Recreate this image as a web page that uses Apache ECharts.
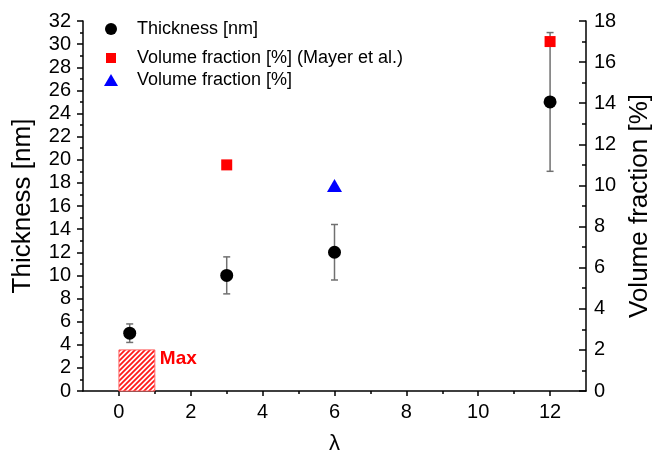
<!DOCTYPE html>
<html><head><meta charset="utf-8">
<script src="https://cdn.jsdelivr.net/npm/echarts@6/dist/echarts.min.js"></script>
<style>html,body{margin:0;padding:0;background:#fff}#c{width:653px;height:454px}</style>
</head><body><div id="c"></div>
<script>
// ---- data ----
const lambdaThickness = [0.3, 3, 6, 12];
const thickness = [5, 10, 12, 25];
const thicknessErr = [0.8, 1.6, 2.4, 6];
const lambdaMayer = [3, 12];
const volMayer = [11, 17];
const lambdaVol = [6];
const volFraction = [10];
const maxRegion = [0, 1, 2]; // lambda from, lambda to, volume fraction
const maxLabel = 'Max';
const xMajorTicks = [0, 2, 4, 6, 8, 10, 12];
const xMinorTicks = [1, 3, 5, 7, 9, 11];
const seriesNames = ['Thickness [nm]', 'Volume fraction [%] (Mayer et al.)', 'Volume fraction [%]'];

const FONT = "'Liberation Sans', Arial, sans-serif";

// hatch pattern
const pc = document.createElement('canvas');
pc.width = 5; pc.height = 5;
const g = pc.getContext('2d');
g.fillStyle = '#fff'; g.fillRect(0, 0, 5, 5);
g.strokeStyle = '#ff1a1a'; g.lineWidth = 1.8;
g.beginPath();
g.moveTo(0, 5); g.lineTo(5, 0);
g.moveTo(-1, 1); g.lineTo(1, -1);
g.moveTo(4, 6); g.lineTo(6, 4);
g.stroke();

const chart = echarts.init(document.getElementById('c'), null, {renderer: 'canvas'});
const axisLabelBase = {color: '#000', fontSize: 20, fontFamily: FONT};
const lineStyle = {color: '#000', width: 1.5};

const legendBase = (name, icon, left, top, w, h, pad) => ({
  data: [name], icon: icon, left: left, top: top, itemWidth: w, itemHeight: h,
  orient: 'vertical', selectedMode: false, padding: 0,
  textStyle: {fontSize: 18, fontFamily: FONT, color: '#000', padding: [0, 0, 0, pad]}
});

chart.setOption({
  animation: false,
  backgroundColor: '#fff',
  grid: {left: 83, right: 67, top: 21, bottom: 63, containLabel: false, outerBoundsMode: 'none'},
  legend: [
    legendBase(seriesNames[0], 'circle', 105, 20, 12, 12, 15),
    legendBase(seriesNames[1], 'rect', 106, 49, 10, 10, 16),
    legendBase(seriesNames[2], 'triangle', 104, 71, 14, 12, 14)
  ],
  xAxis: [{
    type: 'value', min: -1, max: 13, position: 'bottom',
    name: 'λ', nameLocation: 'middle', nameGap: 42,
    nameTextStyle: {fontSize: 22, fontFamily: FONT, color: '#000'},
    axisLine: {onZero: false, lineStyle: lineStyle},
    axisTick: {customValues: xMajorTicks, length: 5, lineStyle: lineStyle},
    axisLabel: Object.assign({customValues: xMajorTicks, margin: 11}, axisLabelBase),
    splitLine: {show: false}
  }, {
    type: 'value', min: -1, max: 13, position: 'bottom',
    axisLine: {show: false, onZero: false},
    axisTick: {customValues: xMinorTicks, length: 3, lineStyle: lineStyle},
    axisLabel: {show: false},
    splitLine: {show: false}
  }],
  yAxis: [{
    type: 'value', min: 0, max: 32, interval: 2, position: 'left',
    name: 'Thickness [nm]', nameLocation: 'middle', nameRotate: 90, nameGap: 47,
    nameTextStyle: {fontSize: 26, fontFamily: FONT, color: '#000'},
    axisLine: {show: true, onZero: false, lineStyle: lineStyle},
    axisTick: {show: true, length: 6, lineStyle: lineStyle},
    minorTick: {show: true, splitNumber: 2, length: 3, lineStyle: lineStyle},
    axisLabel: Object.assign({margin: 12}, axisLabelBase),
    splitLine: {show: false}
  }, {
    type: 'value', min: 0, max: 18, interval: 2, position: 'right',
    name: 'Volume fraction [%]', nameLocation: 'middle', nameRotate: 90, nameGap: 38,
    nameTextStyle: {fontSize: 26, fontFamily: FONT, color: '#000'},
    axisLine: {show: true, onZero: false, lineStyle: lineStyle},
    axisTick: {show: true, inside: true, length: 7, lineStyle: lineStyle},
    minorTick: {show: true, splitNumber: 2, length: 4, lineStyle: lineStyle},
    axisLabel: Object.assign({margin: 8}, axisLabelBase),
    splitLine: {show: false}
  }],
  series: [
    {
      type: 'custom', name: 'maxRegion', xAxisIndex: 0, yAxisIndex: 1, silent: true, z: 1,
      data: [maxRegion],
      encode: {x: [0, 1], y: 2},
      renderItem: (params, api) => {
        const p0 = api.coord([api.value(0), 0]);
        const p1 = api.coord([api.value(1), api.value(2)]);
        return {type: 'group', children: [
          {type: 'rect', shape: {x: p0[0], y: p1[1], width: p1[0] - p0[0], height: p0[1] - p1[1]},
           style: {fill: {image: pc, repeat: 'repeat'}, stroke: '#ff6666', lineWidth: 1}},
          {type: 'text', x: p1[0] + 5, y: p1[1] + 9,
           style: {text: maxLabel, fill: '#ff0000', font: 'bold 19px ' + FONT, verticalAlign: 'middle', align: 'left'}}
        ]};
      }
    },
    {
      type: 'custom', name: 'errorBars', xAxisIndex: 0, yAxisIndex: 0, silent: true, z: 2,
      data: lambdaThickness.map((x, i) => [x, thickness[i] - thicknessErr[i], thickness[i] + thicknessErr[i]]),
      encode: {x: 0, y: [1, 2]},
      renderItem: (params, api) => {
        const lo = api.coord([api.value(0), api.value(1)]);
        const hi = api.coord([api.value(0), api.value(2)]);
        const w = 3.5, st = {stroke: '#707070', lineWidth: 1.5};
        return {type: 'group', children: [
          {type: 'line', shape: {x1: lo[0], y1: lo[1], x2: hi[0], y2: hi[1]}, style: st},
          {type: 'line', shape: {x1: lo[0] - w, y1: lo[1], x2: lo[0] + w, y2: lo[1]}, style: st},
          {type: 'line', shape: {x1: hi[0] - w, y1: hi[1], x2: hi[0] + w, y2: hi[1]}, style: st}
        ]};
      }
    },
    {
      type: 'scatter', name: seriesNames[0], xAxisIndex: 0, yAxisIndex: 0, z: 5,
      symbol: 'circle', symbolSize: 13, itemStyle: {color: '#000', opacity: 1},
      data: lambdaThickness.map((x, i) => [x, thickness[i]])
    },
    {
      type: 'scatter', name: seriesNames[1], xAxisIndex: 0, yAxisIndex: 1, z: 5,
      symbol: 'rect', symbolSize: 11, itemStyle: {color: '#ff0000', opacity: 1},
      data: lambdaMayer.map((x, i) => [x, volMayer[i]])
    },
    {
      type: 'scatter', name: seriesNames[2], xAxisIndex: 0, yAxisIndex: 1, z: 5,
      symbol: 'triangle', symbolSize: [15, 13], itemStyle: {color: '#0000ff', opacity: 1},
      data: lambdaVol.map((x, i) => [x, volFraction[i]])
    }
  ]
});
</script></body></html>
